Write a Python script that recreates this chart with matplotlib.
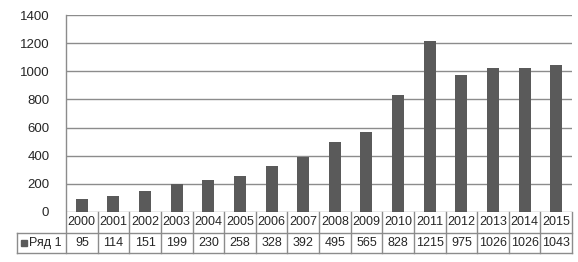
import matplotlib.pyplot as plt

plt.rcParams['font.family'] = ['Liberation Sans', 'DejaVu Sans']

years = ['2000', '2001', '2002', '2003', '2004', '2005', '2006', '2007',
         '2008', '2009', '2010', '2011', '2012', '2013', '2014', '2015']
values = [95, 114, 151, 199, 230, 258, 328, 392, 495, 565, 828, 1215,
          975, 1026, 1026, 1043]
series_name = 'Ряд 1'
y_ticks = [0, 200, 400, 600, 800, 1000, 1200, 1400]

W, H = 578, 262
bar_color = '#5a5a5a'
line_color = '#8c8c8c'
text_color = '#262626'

fig = plt.figure(figsize=(W / 100, H / 100), dpi=100)
left, right, top, bottom = 66, 572, 15, 212
ax = fig.add_axes([left / W, 1 - bottom / H, (right - left) / W, (bottom - top) / H])

n = len(years)
ax.bar(range(n), values, width=0.38, color=bar_color, zorder=3)
ax.set_xlim(-0.5, n - 0.5)
ax.set_ylim(0, 1400)
ax.set_yticks(y_ticks)
ax.set_xticks([])
ax.tick_params(axis='y', length=0, pad=12, labelsize=9.5, labelcolor=text_color)
ax.grid(axis='y', color=line_color, linewidth=1, zorder=0)
for s in ['top', 'right', 'bottom', 'left']:
    ax.spines[s].set_visible(False)

# table below the axes
ah = bottom - top
r1 = -(232.5 - bottom) / ah
r2 = -(253 - bottom) / ah
leg_x = (17 - left) / (right - left)
tr = ax.transAxes
kw = dict(color=line_color, linewidth=1, transform=tr, clip_on=False)

ax.plot([0, 0], [1, r2], **kw)
ax.plot([leg_x, 1], [r1, r1], **kw)
ax.plot([leg_x, 1], [r2, r2], **kw)
ax.plot([leg_x, leg_x], [r1, r2], **kw)
for i in range(1, n + 1):
    ax.plot([i / n, i / n], [0, r2], **kw)

for i in range(n):
    cx = (i + 0.5) / n
    ax.text(cx, r1 / 2, years[i], transform=tr, ha='center', va='center',
            fontsize=9, color=text_color)
    ax.text(cx, (r1 + r2) / 2, str(values[i]), transform=tr, ha='center',
            va='center', fontsize=9, color=text_color)

sq_x = (24 - left) / (right - left)
ax.plot([sq_x], [(r1 + r2) / 2], marker='s', markersize=5, color=bar_color,
        transform=tr, clip_on=False, linestyle='none')
ax.text((29 - left) / (right - left), (r1 + r2) / 2, series_name, transform=tr,
        ha='left', va='center', fontsize=9, color=text_color)

fig.savefig('out.png', dpi=100)
